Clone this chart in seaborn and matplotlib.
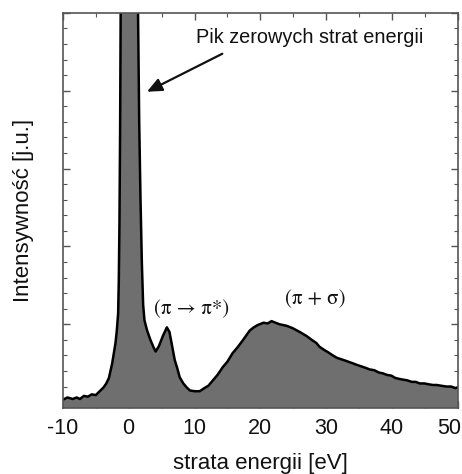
import numpy as np
import pandas as pd
import seaborn as sns
import matplotlib.pyplot as plt
import matplotlib.transforms as mtransforms
from matplotlib.ticker import MultipleLocator

# values (energy loss [eV], intensity [a.u.])
energy = [-10, -9.3, -8.5, -7.9, -7.4, -6.8, -6.2, -5.6, -5, -4.4, -3.8, -3.4, -3.0, -2.5,
          -2.0, -1.8, -1.6, -1.5, -1.4, -1.3, -1.2, -1.0, -0.5, 0, 0.5, 1.0, 1.2, 1.4, 1.6,
          1.8, 2.0, 2.2, 2.4, 2.8, 3.3, 3.8, 4.1, 4.6, 5.2, 5.8, 6.2, 6.6, 7.0, 7.4, 7.75,
          8.3, 8.8, 9.3, 10.0, 10.8, 11.5, 12.1, 12.8, 13.5, 14.3, 15.0, 15.8, 16.5, 17.3,
          18.4, 19.0, 19.6, 20.5, 21.1, 21.7, 22.3, 22.9, 24.0, 24.9, 26.0, 27.0, 27.8,
          28.5, 29.0, 29.7, 30.3, 31.0, 31.6, 32.3, 33.0, 34.0, 34.6, 35.3, 36.0, 36.6,
          37.3, 38.0, 38.6, 39.2, 39.9, 40.5, 41.0, 41.6, 42.3, 43.0, 43.6, 44.2, 44.9,
          45.5, 46.2, 46.8, 47.5, 48.3, 49.0, 49.6, 50]
intensity = [0.03, 0.06, 0.04, 0.06, 0.04, 0.08, 0.07, 0.10, 0.09, 0.14, 0.19, 0.24, 0.31, 0.50,
             0.76, 0.92, 1.14, 1.56, 2.3, 3.5, 5.3, 15, 40, 50, 40, 15, 7.5, 5.2, 3.6,
             2.6, 1.8, 1.25, 1.05, 0.92, 0.80, 0.70, 0.65, 0.72, 0.85, 0.96, 0.90, 0.72, 0.54, 0.43, 0.32,
             0.24, 0.19, 0.15, 0.14, 0.14, 0.18, 0.21, 0.28, 0.35, 0.45, 0.52, 0.63, 0.70, 0.79,
             0.92, 0.96, 0.99, 1.02, 1.01, 1.04, 1.02, 1.00, 0.98, 0.95, 0.90, 0.85, 0.80,
             0.76, 0.71, 0.67, 0.64, 0.60, 0.57, 0.55, 0.53, 0.50, 0.48, 0.46, 0.44, 0.42,
             0.41, 0.38, 0.37, 0.35, 0.34, 0.31, 0.30, 0.29, 0.28, 0.26, 0.26, 0.24, 0.24,
             0.23, 0.22, 0.22, 0.21, 0.20, 0.20, 0.18, 0.19]
x_ticks = [-10, 0, 10, 20, 30, 40, 50]

df = pd.DataFrame({"energy": energy, "intensity": intensity})

sns.set_style("ticks")
plt.rcParams["font.family"] = ["Liberation Sans", "DejaVu Sans"]
plt.rcParams["axes.unicode_minus"] = False

fig = plt.figure(figsize=(4.62, 4.74), dpi=100)
ax = fig.add_axes([0.136, 0.139, 0.855, 0.834])

ax.fill_between(df["energy"], df["intensity"], -1, color="#6f6f6f", lw=0)
sns.lineplot(data=df, x="energy", y="intensity", ax=ax, color="black", lw=1.8)

ax.set_xlim(-10, 50)
ax.set_ylim(-0.077, 5.0)
ax.set_xticks(x_ticks)
ax.set_xticklabels([str(t) for t in x_ticks])
ax.xaxis.set_minor_locator(MultipleLocator(5))
ax.yaxis.set_major_locator(MultipleLocator(1))
ax.yaxis.set_minor_locator(MultipleLocator(0.2))
ax.tick_params(which="both", direction="in", top=True, right=True, colors="#555555",
               labelcolor="#111111")
ax.tick_params(which="major", length=5, width=1, labelsize=15.5, pad=7)
ax.tick_params(which="minor", length=3, width=0.8)
ax.tick_params(axis="y", labelleft=False)
for s in ax.spines.values():
    s.set_color("#555555")
    s.set_linewidth(1.2)
# keep the last tick label inside the canvas
last = ax.get_xticklabels()[-1]
last.set_transform(last.get_transform() + mtransforms.ScaledTranslation(-9 / 100, 0, fig.dpi_scale_trans))

ax.set_xlabel("strata energii [eV]", fontsize=16, color="#111111", labelpad=10)
ax.set_ylabel("Intensywność [j.u.]", fontsize=16, color="#111111", labelpad=17)

ax.text(10.3, 4.68, "Pik zerowych strat energii", fontsize=14.3, va="center", ha="left",
        color="#111111")
ax.annotate("", xy=(2.4, 3.97), xytext=(14.6, 4.49),
            arrowprops=dict(arrowstyle="-|>,head_length=0.9,head_width=0.4",
                            color="#111111", lw=1.6))

serif = ["STIXGeneral", "Liberation Serif", "DejaVu Serif"]
ax.text(9.6, 1.19, "(π → π*)", fontsize=15, ha="center", va="center",
        family=serif, color="#111111")
ax.text(28.3, 1.32, "(π + σ)", fontsize=15, ha="center", va="center",
        family=serif, color="#111111")

fig.savefig("out.png", dpi=100)
